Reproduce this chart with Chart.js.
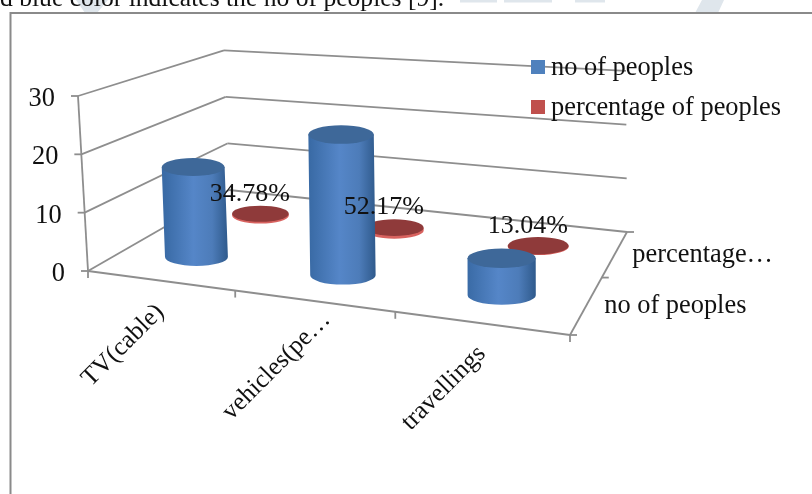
<!DOCTYPE html>
<html>
<head>
<meta charset="utf-8">
<title>no of peoples</title>
<script src="https://cdn.jsdelivr.net/npm/chart.js@4/dist/chart.umd.js"></script>
<style>
  html, body { margin: 0; padding: 0; background: #fff; }
  #wrap { position: relative; width: 812px; height: 494px; overflow: hidden; }
</style>
</head>
<body>
<div id="wrap"><canvas id="peopleChart" width="812" height="494"></canvas></div>
<script>
const categories = ['TV(cable)', 'vehicles(pe…', 'travellings'];
const seriesNames = ['no of peoples', 'percentage of peoples'];
const seriesAxisLabels = ['no of peoples', 'percentage…'];
const peopleValues = [16, 24, 6];
const percentValues = [34.78, 52.17, 13.04];
const yTicks = [0, 10, 20, 30];
const caption = 'd blue color indicates the no of peoples [9].';

const FONT = '26.4px "Liberation Serif"';
const LINE = '#8e8e8e';
const SERIES_DEPTHS = [0.24, 0.735];

// Floor corners of the 3D box on screen, used for a plane homography
const FRONT_LEFT = [88, 271], FRONT_RIGHT = [570, 335], BACK_RIGHT = [627, 232], BACK_LEFT = [229, 190];

function makeFloor() {
    const [x0, y0] = FRONT_LEFT, [x1, y1] = FRONT_RIGHT, [x2, y2] = BACK_RIGHT, [x3, y3] = BACK_LEFT;
    const dx1 = x1 - x2, dy1 = y1 - y2, dx2 = x3 - x2, dy2 = y3 - y2;
    const sx = x0 - x1 + x2 - x3, sy = y0 - y1 + y2 - y3;
    const det = dx1 * dy2 - dx2 * dy1;
    const g = (sx * dy2 - dx2 * sy) / det;
    const h = (dx1 * sy - sx * dy1) / det;
    return (u, d) => {
        const w = 1 + g * u + h * d;
        return {
            x: ((x1 - x0 + g * x1) * u + (x3 - x0 + h * x3) * d + x0) / w,
            y: ((y1 - y0 + g * y1) * u + (y3 - y0 + h * y3) * d + y0) / w,
            w
        };
    };
}
const floor = makeFloor();

// Project chart-area pixels plus a depth (0 front, 1 back) into the box
function project(chart, px, py, depth) {
    const area = chart.chartArea;
    const u = (px - area.left) / (area.right - area.left);
    const lift = area.bottom - py;
    const p = floor(u, depth);
    const lean = 10 * (1 - u) * (1 - u) * (1 - 0.5 * depth) + u * depth;
    return {
        x: p.x - (lift / area.height) * lean,
        y: p.y - (lift / p.w) * (1 + depth * (u - 0.5) * 0.04),
        base: p
    };
}

function strokeLine(ctx, a, b) {
    ctx.beginPath();
    ctx.moveTo(a.x, a.y);
    ctx.lineTo(b.x, b.y);
    ctx.stroke();
}

function drawWalls(chart) {
    const ctx = chart.ctx, yScale = chart.scales.y, area = chart.chartArea;
    ctx.save();
    ctx.strokeStyle = LINE;
    ctx.lineWidth = 1.8;
    ctx.fillStyle = '#111';
    ctx.font = FONT;
    ctx.textAlign = 'right';
    ctx.textBaseline = 'middle';

    yScale.ticks.forEach(tick => {
        const py = yScale.getPixelForValue(tick.value);
        const frontLeft = project(chart, area.left, py, 0);
        const backLeft = project(chart, area.left, py, 1);
        const backRight = project(chart, area.right, py, 1);
        strokeLine(ctx, frontLeft, backLeft);
        strokeLine(ctx, backLeft, backRight);
        strokeLine(ctx, frontLeft, { x: frontLeft.x - 7, y: frontLeft.y });
        ctx.fillText(tick.label, frontLeft.x - 23, frontLeft.y + 3);
    });

    // vertical edge at the left, floor front edge and right edge
    strokeLine(ctx, project(chart, area.left, area.bottom, 0), project(chart, area.left, area.top, 0));
    const frontL = project(chart, area.left, area.bottom, 0);
    const frontR = project(chart, area.right, area.bottom, 0);
    const backR = project(chart, area.right, area.bottom, 1);
    strokeLine(ctx, frontL, frontR);
    strokeLine(ctx, frontR, backR);

    // category ticks between the bands
    [0, 1, 2, 3].forEach(i => {
        const t = project(chart, area.left + (area.right - area.left) * i / categories.length, area.bottom, 0);
        strokeLine(ctx, t, { x: t.x, y: t.y + 7 });
    });

    // series axis ticks on the right edge
    [0, 0.5, 1].forEach(d => {
        const t = project(chart, area.right, area.bottom, d);
        strokeLine(ctx, t, { x: t.x + 7, y: t.y });
    });
    ctx.restore();
}

function drawCylinder(ctx, top, bottom, rx, ry, side, cap) {
    const grad = ctx.createLinearGradient(bottom.x - rx, 0, bottom.x + rx, 0);
    side.forEach(([stop, color]) => grad.addColorStop(stop, color));
    ctx.fillStyle = grad;
    ctx.beginPath();
    ctx.moveTo(top.x - rx, top.y);
    ctx.lineTo(bottom.x - rx, bottom.y);
    ctx.ellipse(bottom.x, bottom.y, rx, ry, 0, Math.PI, 0, true);
    ctx.lineTo(top.x + rx, top.y);
    ctx.closePath();
    ctx.fill();
    ctx.fillStyle = cap;
    ctx.beginPath();
    ctx.ellipse(top.x, top.y, rx, ry, 0, 0, Math.PI * 2);
    ctx.fill();
}

const blueSide = [[0, '#3a6ba6'], [0.45, '#5586c8'], [0.75, '#4d7cb9'], [1, '#2f5a8c']];
const redSide = [[0, '#d8625f'], [1, '#d8625f']];

const box3d = {
    id: 'box3d',
    beforeDraw(chart) {
        const ctx = chart.ctx;
        ctx.save();
        ctx.fillStyle = '#fff';
        ctx.fillRect(0, 0, chart.width, chart.height);

        // faint watermark strokes behind the caption
        ctx.fillStyle = '#dfe6ec';
        [[76, 0, 108, 0, 97, 13, 85, 13], [460, 0, 497, 0, 497, 2.5, 460, 2.5], [504, 0, 552, 0, 552, 2.5, 504, 2.5],
         [575, 0, 605, 0, 605, 2.5, 575, 2.5], [702, 0, 724, 0, 718, 13, 695, 13]].forEach(s => {
            ctx.beginPath();
            ctx.moveTo(s[0], s[1]);
            for (let i = 2; i < s.length; i += 2) ctx.lineTo(s[i], s[i + 1]);
            ctx.closePath();
            ctx.fill();
        });

        ctx.fillStyle = '#111';
        ctx.font = '25.6px "Liberation Serif"';
        ctx.textBaseline = 'alphabetic';
        ctx.fillText(caption, 0, 6);

        // frame around the chart, open at the bottom of the page
        ctx.strokeStyle = '#8a8a8a';
        ctx.lineWidth = 2;
        ctx.beginPath();
        ctx.moveTo(10.5, chart.height);
        ctx.lineTo(10.5, 13);
        ctx.lineTo(chart.width, 13);
        ctx.stroke();
        ctx.restore();

        drawWalls(chart);
    },
    afterDatasetsDraw(chart) {
        const ctx = chart.ctx, area = chart.chartArea;
        ctx.save();

        // back series first so the front cylinders overlap it
        [1, 0].forEach(ds => {
            chart.getDatasetMeta(ds).data.forEach(el => {
                const top = project(chart, el.x, el.y, SERIES_DEPTHS[ds]);
                const bottom = project(chart, el.x, area.bottom, SERIES_DEPTHS[ds]);
                const rx = el.width / 2 / top.base.w;
                const ry = rx * 0.285;
                if (ds === 0) drawCylinder(ctx, top, bottom, rx, ry, blueSide, '#3e6899');
                else drawCylinder(ctx, top, bottom, rx, ry, redSide, '#8f3a3a');
            });
        });

        // percent labels over everything
        ctx.fillStyle = '#111';
        ctx.font = '26px "Liberation Serif"';
        ctx.textAlign = 'center';
        ctx.textBaseline = 'middle';
        chart.getDatasetMeta(1).data.forEach((el, i) => {
            const top = project(chart, el.x, el.y, SERIES_DEPTHS[1]);
            ctx.fillText(percentValues[i].toFixed(2) + '%', top.x - 10.5, top.y - 20);
        });

        // category labels below the sloped front edge
        ctx.font = '25.5px "Liberation Serif"';
        categories.forEach((name, i) => {
            const p = project(chart, chart.scales.x.getPixelForValue(i), area.bottom, 0);
            ctx.save();
            ctx.translate(p.x - 37, p.y + 65);
            ctx.rotate(-Math.PI / 4);
            ctx.fillText(name, 0, 0);
            ctx.restore();
        });

        // series names along the right edge
        ctx.font = FONT;
        ctx.textAlign = 'left';
        seriesAxisLabels.forEach((name, i) => {
            const p = project(chart, area.right, area.bottom, SERIES_DEPTHS[i]);
            ctx.fillText(name, p.x + 18, p.y);
        });

        // legend
        chart.data.datasets.forEach((ds, i) => {
            const y = 60 + i * 40;
            ctx.fillStyle = ds.backgroundColor;
            ctx.fillRect(531, y, 14, 14);
            ctx.fillStyle = '#111';
            ctx.fillText(ds.label, 551, y + 8);
        });
        ctx.restore();
    }
};

new Chart(document.getElementById('peopleChart'), {
    type: 'bar',
    data: {
        labels: categories,
        datasets: [
            {
                label: seriesNames[0],
                data: peopleValues,
                backgroundColor: '#4f81bd'
            },
            {
                label: seriesNames[1],
                // the percentages are plotted as fractions, so they sit almost flat on the floor
                data: percentValues.map(v => v / 100),
                backgroundColor: '#c0504d'
            }
        ]
    },
    options: {
        responsive: false,
        animation: false,
        layout: { padding: { left: 88, right: 242, top: 96, bottom: 223 } },
        datasets: { bar: { grouped: false, barPercentage: 0.405, categoryPercentage: 1 } },
        scales: {
            x: { display: false, type: 'category' },
            y: {
                display: false,
                min: 0,
                max: 30,
                afterBuildTicks(scale) {
                    scale.ticks = yTicks.map(value => ({ value, label: String(value) }));
                }
            }
        },
        elements: { bar: { borderWidth: 0 } },
        plugins: {
            legend: { display: false },
            tooltip: { enabled: false }
        }
    },
    plugins: [box3d, {
        // the cylinders replace the flat rectangles
        id: 'hideFlatBars',
        beforeDatasetDraw() { return false; }
    }]
});
</script>
</body>
</html>
